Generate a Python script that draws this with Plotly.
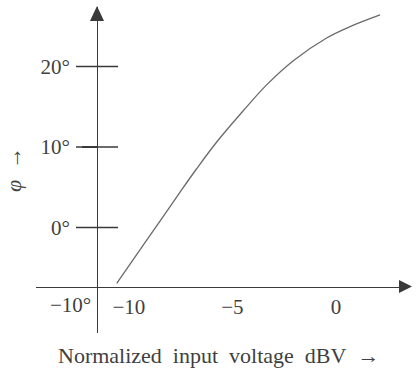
import plotly.graph_objects as go

# ---- data ----
input_dbv = [-10.59, -9.31, -8.34, -7.54, -6.73, -5.76, -4.48, -3.35, -2.06, -0.45, 0.68, 2.13]
phase_deg = [-6.93, -2.19, 1.40, 4.36, 7.30, 10.62, 14.50, 17.72, 20.72, 23.54, 24.95, 26.4]

x_tick_vals = [-10, -5, 0]
x_tick_text = ["\u221210", "\u22125", "0"]
y_tick_vals = [0, 10, 20]
y_tick_text = ["0\u00b0", "10\u00b0", "20\u00b0"]
y_low_tick_val = -10
y_low_tick_text = "\u221210\u00b0"

x_title = "Normalized\u00a0 input\u00a0 voltage\u00a0 dBV\u00a0 \u2192"
y_title = "<i>\u03c6</i>\u00a0 \u2192"

# ---- layout geometry ----
W, H = 416, 372
ML, MR, MT, MB = 36, 8, 7, 39
X_RANGE = [-14.49, 3.48]
Y_RANGE = [-13.1, 27.39]
PW, PH = W - ML - MR, H - MT - MB

def px(xp):
    return (xp - ML) / PW

def py(yp):
    return (H - MB - yp) / PH

YAXIS_POS = px(97)
XAXIS_POS = py(286.5)
yaxis_data_x = X_RANGE[0] + YAXIS_POS * (X_RANGE[1] - X_RANGE[0])

AX_COLOR = "#3a3a3a"
TXT_COLOR = "#3f3f3f"
FONT = "Liberation Serif, Times New Roman, serif"
TICK_SIZE = 21
TITLE_SIZE = 22

fig = go.Figure()
fig.add_trace(go.Scatter(
    x=input_dbv, y=phase_deg, mode="lines",
    line=dict(color="#6a6a6a", width=1.3, shape="spline", smoothing=1.0),
    hoverinfo="skip", showlegend=False,
))
# crossing tick marks on the y axis
fig.add_trace(go.Scatter(
    x=[yaxis_data_x] * len(y_tick_vals), y=y_tick_vals, mode="markers",
    marker=dict(symbol="line-ew", size=30, line=dict(color=AX_COLOR, width=1.4)),
    hoverinfo="skip", showlegend=False,
))

def path(points):
    s = "M " + " L ".join(f"{px(a):.5f},{py(b):.5f}" for a, b in points) + " Z"
    return s

shapes = [
    dict(type="path", xref="paper", yref="paper",
         path=path([(97, 6), (90, 21), (104, 21)]),
         fillcolor=AX_COLOR, line=dict(width=0)),
    dict(type="path", xref="paper", yref="paper",
         path=path([(412, 286.5), (399, 280), (399, 293)]),
         fillcolor=AX_COLOR, line=dict(width=0)),
]

annotations = [
    dict(text=y_low_tick_text, xref="paper", x=YAXIS_POS, xanchor="right", xshift=-4,
         yref="y", y=y_low_tick_val, yanchor="middle", yshift=3, showarrow=False,
         font=dict(family=FONT, size=TICK_SIZE, color=TXT_COLOR)),
    dict(text=x_title, xref="paper", yref="paper", x=px(218), y=py(355),
         xanchor="center", yanchor="middle", showarrow=False,
         font=dict(family=FONT, size=TITLE_SIZE, color=TXT_COLOR)),
    dict(text=y_title, xref="paper", yref="paper", x=px(13), y=py(170),
         xanchor="center", yanchor="middle", textangle=-90, showarrow=False,
         font=dict(family=FONT, size=TITLE_SIZE, color=TXT_COLOR)),
]

fig.update_layout(
    width=W, height=H,
    margin=dict(l=ML, r=MR, t=MT, b=MB, pad=0, autoexpand=False),
    paper_bgcolor="white", plot_bgcolor="white",
    font=dict(family=FONT, size=TICK_SIZE, color=TXT_COLOR),
    xaxis=dict(range=X_RANGE, domain=[0, 1], anchor="free", position=XAXIS_POS,
               automargin=False,
               showline=True, linecolor=AX_COLOR, linewidth=1.4,
               showgrid=False, zeroline=False, ticks="",
               tickmode="array", tickvals=x_tick_vals, ticktext=x_tick_text,
               ticklabelstandoff=1),
    yaxis=dict(range=Y_RANGE, domain=[0, 1], anchor="free", position=YAXIS_POS,
               automargin=False,
               showline=True, linecolor=AX_COLOR, linewidth=1.4,
               showgrid=False, zeroline=False, ticks="outside", ticklen=15,
               tickcolor=AX_COLOR, tickwidth=1.4,
               tickmode="array", tickvals=y_tick_vals, ticktext=y_tick_text,
               ticklabelstandoff=8),
    shapes=shapes, annotations=annotations,
)

fig.write_html(
    "out.html",
    config={"displayModeBar": False, "staticPlot": True},
    post_script="document.body.style.margin='0px';document.body.style.overflow='hidden';",
)
